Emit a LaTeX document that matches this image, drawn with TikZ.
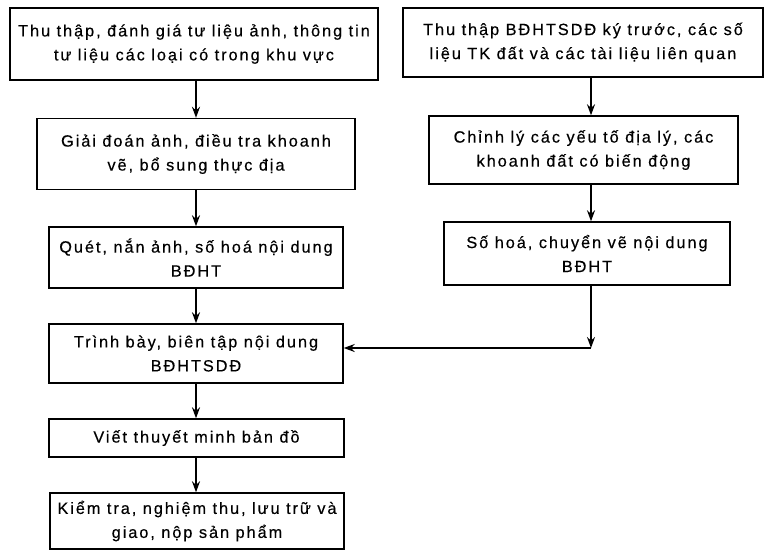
\documentclass[tikz,border=0pt]{standalone}
\usepackage{fontspec}
\setmainfont{Liberation Sans}[LetterSpace=12, FakeBold=0.4]
\usetikzlibrary{arrows.meta}
\tikzset{
  box/.style={draw, line width=1.4pt, align=center, inner sep=0pt,
    font=\fontsize{16.3}{24}\selectfont},
  arr/.style={line width=1.6pt, -{Stealth[length=11pt,width=8pt]}}
}
\begin{document}
\begin{tikzpicture}[x=1pt,y=-1pt]
\useasboundingbox (0,0) rectangle (765,551);
\node[box, minimum width=368pt, minimum height=72pt] (b1) at (194,44) {Thu thập, đánh giá tư liệu ảnh, thông tin\\tư liệu các loại có trong khu vực};
\node[box, minimum width=318pt, minimum height=71pt] (b2) at (196,154) {Giải đoán ảnh, điều tra khoanh\\vẽ, bổ sung thực địa};
\node[box, minimum width=294pt, minimum height=61pt] (b3) at (196,257.5) {Quét, nắn ảnh, số hoá nội dung\\BĐHT};
\node[box, minimum width=294pt, minimum height=59pt] (b4) at (196,353.5) {Trình bày, biên tập nội dung\\BĐHTSDĐ};
\node[box, minimum width=295pt, minimum height=38pt] (b5) at (196.5,438) {Viết thuyết minh bản đồ};
\node[box, minimum width=294pt, minimum height=56pt] (b6) at (197,521) {Kiểm tra, nghiệm thu, lưu trữ và\\giao, nộp sản phẩm};
\node[box, minimum width=360pt, minimum height=69pt] (r1) at (583,42.5) {Thu thập BĐHTSDĐ ký trước, các số\\liệu TK đất và các tài liệu liên quan};
\node[box, minimum width=309pt, minimum height=68pt] (r2) at (583.5,150) {Chỉnh lý các yếu tố địa lý, các\\khoanh đất có biến động};
\node[box, minimum width=286pt, minimum height=63pt] (r3) at (587,253.5) {Số hoá, chuyển vẽ nội dung\\BĐHT};
\coordinate (lx) at (196,0);
\coordinate (rx) at (591,0);
\coordinate (c) at (591,348);
\draw[arr] (b1.south -| lx) -- (b2.north -| lx);
\draw[arr] (b2.south -| lx) -- (b3.north -| lx);
\draw[arr] (b3.south -| lx) -- (b4.north -| lx);
\draw[arr] (b4.south -| lx) -- (b5.north -| lx);
\draw[arr] (b5.south -| lx) -- (b6.north -| lx);
\draw[arr] (r1.south -| rx) -- (r2.north -| rx);
\draw[arr] (r2.south -| rx) -- (r3.north -| rx);
\draw[arr] (r3.south -| rx) -- (c);
\draw[arr] (c) -- (b4.east |- c);
\end{tikzpicture}
\end{document}
